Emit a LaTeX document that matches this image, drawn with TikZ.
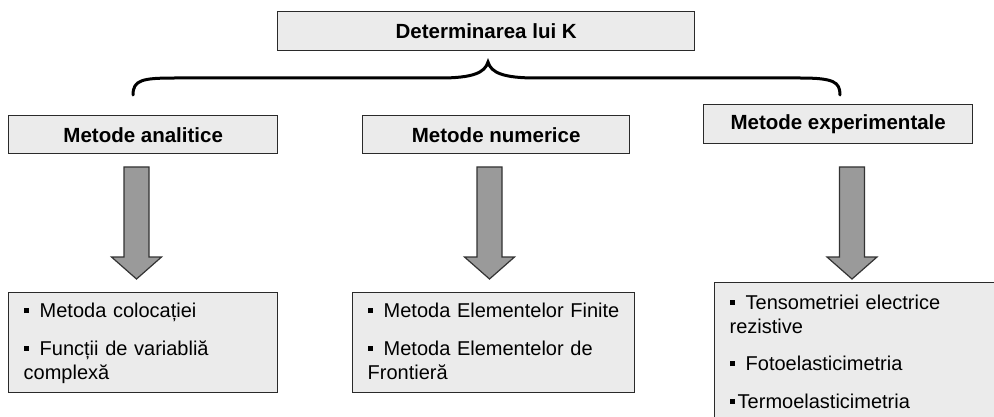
\documentclass[tikz,border=0pt]{standalone}
\usepackage{fontspec}
\setmainfont{Liberation Sans}
\usetikzlibrary{calc}
\definecolor{boxfill}{HTML}{EBEBEB}
\definecolor{boxline}{HTML}{2A2A2A}
\definecolor{arrfill}{HTML}{9A9A9A}
\definecolor{arrline}{HTML}{333333}
\newcommand\bulsq{\rule[4.6pt]{5pt}{5pt}}
\newcommand\topstrut{\rule{0pt}{17pt}}
\newcommand\botstrut{\rule[-5pt]{0pt}{5pt}}
\begin{document}
\lineskiplimit=-100pt
\begin{tikzpicture}[x=1pt,y=-1pt,
  hbox/.style={draw=boxline, fill=boxfill, line width=1.4pt,
    font=\fontsize{20.5}{24}\selectfont\bfseries, inner sep=0pt, anchor=north west},
  lbox/.style={draw=boxline, fill=boxfill, line width=1.4pt,
    font=\fontsize{20}{24.5}\selectfont,
    align=left, inner xsep=15pt, inner ysep=0pt, anchor=north west},
  blockarr/.style={draw=arrline, fill=arrfill, line width=1.2pt, line join=miter},
  bracestyle/.style={line width=3pt, line cap=round}
]
\useasboundingbox (0,0) rectangle (994,417);
\fill[white] (0,0) rectangle (994,417);
\clip (0,0) rectangle (994,417);

% header boxes
\node[hbox, minimum width=417pt, minimum height=39pt] (top) at (277,11) {Determinarea lui K};
\node[hbox, minimum width=269pt, minimum height=38pt] (h1) at (8,115) {Metode analitice};
\node[hbox, minimum width=267pt, minimum height=38pt] (h2) at (362,115) {Metode numerice};
\node[hbox, minimum width=269pt, minimum height=39pt] (h3) at (703,104) {Metode experimentale};

% list boxes
\node[lbox, minimum width=269pt, minimum height=100pt, text width=239pt] (b1) at (8,292)
  {\topstrut\bulsq\hspace{11pt}Metoda colocației\\[13pt]
   \bulsq\hspace{11pt}Funcții de variabliă\\
   complexă\botstrut};
\node[lbox, minimum width=282pt, minimum height=100pt, text width=252pt] (b2) at (352,292)
  {\topstrut\bulsq\hspace{11pt}Metoda Elementelor Finite\\[13pt]
   \bulsq\hspace{11pt}Metoda Elementelor de\\
   Frontieră\botstrut};
\node[lbox, minimum width=290pt, minimum height=140pt, text width=260pt] (b3) at (714,282)
  {\topstrut\bulsq\hspace{11pt}Tensometriei electrice\\
   rezistive\\[12.5pt]
   \bulsq\hspace{11pt}Fotoelasticimetria\\[13pt]
   \bulsq\hspace{3pt}Termoelasticimetria\botstrut};

% brace
\coordinate (bl) at (133,95);
\coordinate (br) at (840,95);
\coordinate (bt) at (488,62);
\draw[bracestyle] (bl) .. controls (133,80) and (142,78) .. (175,78) -- (440,78)
  .. controls (472,78) and (485,73) .. (bt)
  .. controls (491,73) and (504,78) .. (536,78) -- (800,78)
  .. controls (834,78) and (840,82) .. (br);

% block arrows
\coordinate (a1t) at (136.5,167); \coordinate (a1p) at (136.5,279);
\coordinate (a2t) at (489.5,167); \coordinate (a2p) at (489.5,279);
\coordinate (a3t) at (852,167);   \coordinate (a3p) at (852,279);
\foreach \ta/\tb in {a1t/a1p, a2t/a2p, a3t/a3p}{
  \draw[blockarr] let \p1=(\ta), \p2=(\tb) in
    (\x1-12.5pt,\y1) -- (\x1+12.5pt,\y1) -- (\x1+12.5pt,\y2+22pt) -- (\x1+25pt,\y2+22pt)
    -- (\x2,\y2) -- (\x1-25pt,\y2+22pt) -- (\x1-12.5pt,\y2+22pt) -- cycle;
}
\end{tikzpicture}
\end{document}
